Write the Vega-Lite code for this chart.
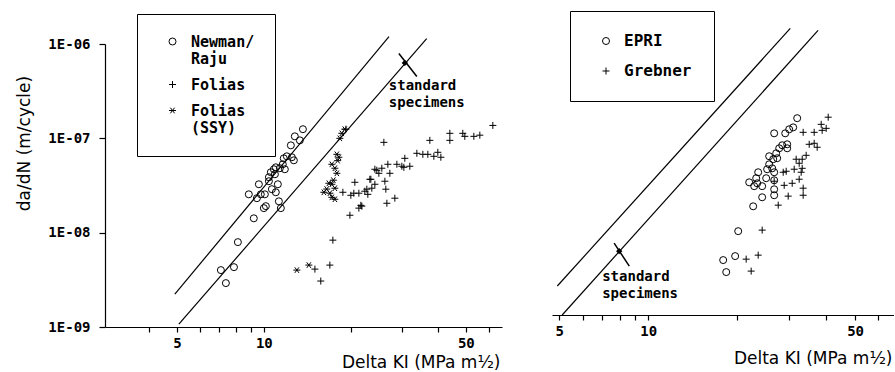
{
 "$schema": "https://vega.github.io/schema/vega-lite/v6.json",
 "padding": {"top": 10, "left": 14, "right": 0, "bottom": 0},
 "background": "white",
 "config": {
  "view": {"stroke": null},
  "axis": {"domainColor": "black", "tickColor": "black", "labelColor": "black", "titleColor": "black", "grid": false, "labelFont": "DejaVu Sans Mono", "labelFontWeight": "bold", "labelFontSize": 14, "titleFont": "DejaVu Sans", "titleFontWeight": "normal", "titleFontSize": 17, "domainWidth": 1.2, "tickWidth": 1.2, "tickSize": 5, "labelOverlap": false, "labelFlush": false},
  "legend": {"labelFont": "DejaVu Sans Mono", "labelFontWeight": "bold", "labelFontSize": 16, "labelColor": "black", "strokeColor": "black", "orient": "none", "symbolStrokeColor": "black", "symbolFillColor": "transparent", "symbolStrokeWidth": 1}
 },
 "datasets": {
  "leftLines": [{"line": "a", "k": 4.92, "r": 2.23e-9}, {"line": "a", "k": 27.1, "r": 1.2e-6}, {"line": "b", "k": 5.08, "r": 1.07e-9}, {"line": "b", "k": 36.6, "r": 1.14e-6}],
  "leftMark": [{"k": 29.32, "r": 7.92e-7}, {"k": 33.84, "r": 4.53e-7}],
  "leftDot": [{"k": 30.75, "r": 6.3e-7}],
  "leftNote": [{"k": 27.07, "r": 4.21e-7, "label": "standard\nspecimens"}],
  "rightLines": [{"line": "a", "k": 4.93, "r": 2.03e-9}, {"line": "a", "k": 30.2, "r": 1.09e-6}, {"line": "b", "k": 5.12, "r": 1.0e-9}, {"line": "b", "k": 37.5, "r": 1.04e-6}],
  "rightMark": [{"k": 7.67, "r": 5.78e-9}, {"k": 8.63, "r": 3.30e-9}],
  "rightDot": [{"k": 7.98, "r": 4.75e-9}],
  "rightNote": [{"k": 6.99, "r": 2.99e-9, "label": "standard\nspecimens"}],
  "leftPts": [
   {"set": "Newman/Raju", "k": 7.10, "r": 4.01e-9}, {"set": "Newman/Raju", "k": 7.39, "r": 2.92e-9}, {"set": "Newman/Raju", "k": 7.88, "r": 4.31e-9}, {"set": "Newman/Raju", "k": 8.13, "r": 7.94e-9},
   {"set": "Newman/Raju", "k": 9.23, "r": 1.42e-8}, {"set": "Newman/Raju", "k": 8.87, "r": 2.55e-8}, {"set": "Newman/Raju", "k": 9.61, "r": 3.26e-8}, {"set": "Newman/Raju", "k": 9.46, "r": 2.32e-8},
   {"set": "Newman/Raju", "k": 9.76, "r": 2.55e-8}, {"set": "Newman/Raju", "k": 10.0, "r": 1.82e-8}, {"set": "Newman/Raju", "k": 10.16, "r": 1.91e-8}, {"set": "Newman/Raju", "k": 10.08, "r": 2.55e-8},
   {"set": "Newman/Raju", "k": 10.41, "r": 3.51e-8}, {"set": "Newman/Raju", "k": 10.66, "r": 2.89e-8}, {"set": "Newman/Raju", "k": 11.0, "r": 2.68e-8}, {"set": "Newman/Raju", "k": 11.18, "r": 3.26e-8},
   {"set": "Newman/Raju", "k": 11.27, "r": 2.15e-8}, {"set": "Newman/Raju", "k": 11.45, "r": 1.82e-8}, {"set": "Newman/Raju", "k": 10.57, "r": 4.37e-8}, {"set": "Newman/Raju", "k": 10.83, "r": 4.70e-8},
   {"set": "Newman/Raju", "k": 11.0, "r": 4.93e-8}, {"set": "Newman/Raju", "k": 11.36, "r": 4.82e-8}, {"set": "Newman/Raju", "k": 11.63, "r": 5.31e-8}, {"set": "Newman/Raju", "k": 11.82, "r": 4.70e-8},
   {"set": "Newman/Raju", "k": 11.72, "r": 6.14e-8}, {"set": "Newman/Raju", "k": 12.01, "r": 6.45e-8}, {"set": "Newman/Raju", "k": 12.5, "r": 6.30e-8}, {"set": "Newman/Raju", "k": 12.4, "r": 8.43e-8},
   {"set": "Newman/Raju", "k": 12.8, "r": 1.05e-7}, {"set": "Newman/Raju", "k": 13.32, "r": 9.52e-8}, {"set": "Newman/Raju", "k": 13.65, "r": 1.25e-7}, {"set": "Newman/Raju", "k": 12.7, "r": 5.85e-8},
   {"set": "Newman/Raju", "k": 10.92, "r": 4.16e-8}, {"set": "Newman/Raju", "k": 10.41, "r": 3.87e-8},
   {"set": "Folias", "k": 15.74, "r": 3.07e-9}, {"set": "Folias", "k": 16.92, "r": 4.53e-9}, {"set": "Folias", "k": 17.33, "r": 8.33e-9}, {"set": "Folias", "k": 15.02, "r": 4.11e-9},
   {"set": "Folias", "k": 18.77, "r": 2.68e-8}, {"set": "Folias", "k": 19.85, "r": 1.53e-8}, {"set": "Folias", "k": 20.65, "r": 3.42e-8}, {"set": "Folias", "k": 20.0, "r": 2.49e-8},
   {"set": "Folias", "k": 21.32, "r": 2.62e-8}, {"set": "Folias", "k": 21.66, "r": 1.95e-8}, {"set": "Folias", "k": 22.36, "r": 2.75e-8}, {"set": "Folias", "k": 22.9, "r": 2.55e-8},
   {"set": "Folias", "k": 23.27, "r": 3.68e-8}, {"set": "Folias", "k": 24.22, "r": 4.70e-8}, {"set": "Folias", "k": 24.22, "r": 3.26e-8}, {"set": "Folias", "k": 25.0, "r": 4.26e-8},
   {"set": "Folias", "k": 25.6, "r": 4.82e-8}, {"set": "Folias", "k": 26.23, "r": 3.51e-8}, {"set": "Folias", "k": 26.43, "r": 2.89e-8}, {"set": "Folias", "k": 26.65, "r": 2.05e-8},
   {"set": "Folias", "k": 26.02, "r": 9.07e-8}, {"set": "Folias", "k": 27.29, "r": 4.26e-8}, {"set": "Folias", "k": 28.4, "r": 2.32e-8}, {"set": "Folias", "k": 28.86, "r": 5.31e-8},
   {"set": "Folias", "k": 30.03, "r": 5.06e-8}, {"set": "Folias", "k": 30.75, "r": 6.14e-8}, {"set": "Folias", "k": 32.0, "r": 5.06e-8}, {"set": "Folias", "k": 33.84, "r": 6.94e-8},
   {"set": "Folias", "k": 35.5, "r": 6.77e-8}, {"set": "Folias", "k": 37.53, "r": 9.52e-8}, {"set": "Folias", "k": 36.94, "r": 6.77e-8}, {"set": "Folias", "k": 38.75, "r": 6.45e-8},
   {"set": "Folias", "k": 40.0, "r": 7.11e-8}, {"set": "Folias", "k": 40.98, "r": 6.30e-8}, {"set": "Folias", "k": 44.02, "r": 1.13e-7}, {"set": "Folias", "k": 44.02, "r": 9.52e-8},
   {"set": "Folias", "k": 48.8, "r": 1.13e-7}, {"set": "Folias", "k": 49.6, "r": 1.05e-7}, {"set": "Folias", "k": 53.3, "r": 1.05e-7}, {"set": "Folias", "k": 55.9, "r": 1.08e-7},
   {"set": "Folias", "k": 62.0, "r": 1.37e-7}, {"set": "Folias", "k": 30.51, "r": 4.93e-8}, {"set": "Folias", "k": 19.22, "r": 1.25e-7}, {"set": "Folias", "k": 20.48, "r": 2.62e-8},
   {"set": "Folias", "k": 21.83, "r": 1.91e-8}, {"set": "Folias", "k": 22.72, "r": 2.89e-8}, {"set": "Folias", "k": 23.64, "r": 2.96e-8}, {"set": "Folias", "k": 24.6, "r": 4.59e-8},
   {"set": "Folias", "k": 26.86, "r": 5.31e-8}, {"set": "Folias", "k": 21.32, "r": 1.82e-8}, {"set": "Folias", "k": 23.46, "r": 3.68e-8},
   {"set": "Folias (SSY)", "k": 18.61, "r": 1.13e-7}, {"set": "Folias (SSY)", "k": 19.06, "r": 1.25e-7}, {"set": "Folias (SSY)", "k": 18.32, "r": 1.0e-7}, {"set": "Folias (SSY)", "k": 17.89, "r": 6.77e-8},
   {"set": "Folias (SSY)", "k": 18.18, "r": 6.30e-8}, {"set": "Folias (SSY)", "k": 17.19, "r": 5.31e-8}, {"set": "Folias (SSY)", "k": 17.61, "r": 4.82e-8}, {"set": "Folias (SSY)", "k": 17.89, "r": 4.26e-8},
   {"set": "Folias (SSY)", "k": 16.79, "r": 3.34e-8}, {"set": "Folias (SSY)", "k": 17.19, "r": 3.26e-8}, {"set": "Folias (SSY)", "k": 17.61, "r": 2.96e-8}, {"set": "Folias (SSY)", "k": 16.13, "r": 2.68e-8},
   {"set": "Folias (SSY)", "k": 16.92, "r": 2.62e-8}, {"set": "Folias (SSY)", "k": 17.19, "r": 2.37e-8}, {"set": "Folias (SSY)", "k": 17.61, "r": 2.26e-8}, {"set": "Folias (SSY)", "k": 13.01, "r": 4.01e-9},
   {"set": "Folias (SSY)", "k": 14.31, "r": 4.53e-9}, {"set": "Folias (SSY)", "k": 18.0, "r": 5.8e-8}, {"set": "Folias (SSY)", "k": 17.4, "r": 3.6e-8}, {"set": "Folias (SSY)", "k": 16.5, "r": 2.9e-8}
  ],
  "rightPts": [
   {"set": "EPRI", "k": 18.35, "r": 2.85e-9}, {"set": "EPRI", "k": 17.92, "r": 3.82e-9}, {"set": "EPRI", "k": 19.67, "r": 4.21e-9}, {"set": "EPRI", "k": 20.14, "r": 7.74e-9},
   {"set": "EPRI", "k": 22.63, "r": 1.42e-8}, {"set": "EPRI", "k": 24.27, "r": 1.77e-8}, {"set": "EPRI", "k": 26.65, "r": 1.86e-8}, {"set": "EPRI", "k": 26.65, "r": 2.15e-8},
   {"set": "EPRI", "k": 21.94, "r": 2.55e-8}, {"set": "EPRI", "k": 22.81, "r": 2.32e-8}, {"set": "EPRI", "k": 23.35, "r": 2.49e-8}, {"set": "EPRI", "k": 24.27, "r": 2.32e-8},
   {"set": "EPRI", "k": 25.04, "r": 2.82e-8}, {"set": "EPRI", "k": 26.65, "r": 2.68e-8}, {"set": "EPRI", "k": 23.53, "r": 3.26e-8}, {"set": "EPRI", "k": 25.23, "r": 3.51e-8},
   {"set": "EPRI", "k": 26.65, "r": 3.26e-8}, {"set": "EPRI", "k": 25.63, "r": 3.96e-8}, {"set": "EPRI", "k": 26.45, "r": 4.48e-8}, {"set": "EPRI", "k": 27.28, "r": 4.59e-8},
   {"set": "EPRI", "k": 25.63, "r": 4.82e-8}, {"set": "EPRI", "k": 27.07, "r": 5.18e-8}, {"set": "EPRI", "k": 27.71, "r": 5.85e-8}, {"set": "EPRI", "k": 28.37, "r": 6.30e-8},
   {"set": "EPRI", "k": 29.49, "r": 6.45e-8}, {"set": "EPRI", "k": 29.49, "r": 5.85e-8}, {"set": "EPRI", "k": 26.65, "r": 8.43e-8}, {"set": "EPRI", "k": 29.04, "r": 8.43e-8},
   {"set": "EPRI", "k": 29.95, "r": 9.30e-8}, {"set": "EPRI", "k": 30.9, "r": 9.75e-8}, {"set": "EPRI", "k": 31.87, "r": 1.22e-7}, {"set": "EPRI", "k": 23.17, "r": 2.82e-8},
   {"set": "EPRI", "k": 26.24, "r": 3.59e-8},
   {"set": "Grebner", "k": 22.28, "r": 2.92e-9}, {"set": "Grebner", "k": 23.53, "r": 4.31e-9}, {"set": "Grebner", "k": 21.43, "r": 3.91e-9}, {"set": "Grebner", "k": 24.27, "r": 7.94e-9},
   {"set": "Grebner", "k": 27.5, "r": 1.46e-8}, {"set": "Grebner", "k": 29.72, "r": 1.82e-8}, {"set": "Grebner", "k": 33.39, "r": 1.86e-8}, {"set": "Grebner", "k": 33.39, "r": 2.21e-8},
   {"set": "Grebner", "k": 28.81, "r": 2.37e-8}, {"set": "Grebner", "k": 30.66, "r": 2.49e-8}, {"set": "Grebner", "k": 32.37, "r": 2.75e-8}, {"set": "Grebner", "k": 26.65, "r": 2.62e-8},
   {"set": "Grebner", "k": 28.59, "r": 3.26e-8}, {"set": "Grebner", "k": 31.14, "r": 3.51e-8}, {"set": "Grebner", "k": 32.88, "r": 3.26e-8}, {"set": "Grebner", "k": 33.14, "r": 3.59e-8},
   {"set": "Grebner", "k": 32.37, "r": 4.06e-8}, {"set": "Grebner", "k": 33.14, "r": 4.48e-8}, {"set": "Grebner", "k": 31.62, "r": 4.48e-8}, {"set": "Grebner", "k": 34.18, "r": 4.93e-8},
   {"set": "Grebner", "k": 35.0, "r": 6.45e-8}, {"set": "Grebner", "k": 36.38, "r": 6.61e-8}, {"set": "Grebner", "k": 37.24, "r": 6.0e-8}, {"set": "Grebner", "k": 33.39, "r": 8.64e-8},
   {"set": "Grebner", "k": 36.38, "r": 8.64e-8}, {"set": "Grebner", "k": 38.71, "r": 9.07e-8}, {"set": "Grebner", "k": 38.42, "r": 1.05e-7}, {"set": "Grebner", "k": 39.94, "r": 9.52e-8},
   {"set": "Grebner", "k": 40.57, "r": 1.25e-7}, {"set": "Grebner", "k": 29.26, "r": 3.34e-8}
  ]
 },
 "spacing": 50,
 "bounds": "flush",
 "resolve": {"scale": {"x": "independent", "y": "independent", "shape": "independent"}, "legend": {"shape": "independent"}},
 "hconcat": [
  {
   "width": 397, "height": 283,
   "layer": [
    {"data": {"name": "leftLines"}, "mark": {"type": "line", "color": "black", "strokeWidth": 1.2, "clip": false},
     "encoding": {
      "x": {"field": "k", "type": "quantitative", "title": "Delta KI (MPa m½)", "scale": {"type": "log", "domain": [2.82, 66.7], "nice": false},
            "axis": {"values": [4, 5, 6, 7, 8, 9, 10, 20, 30, 40, 50, 60], "labelExpr": "datum.value == 5 || datum.value == 10 || datum.value == 50 ? '' + datum.value : ''", "labelPadding": 4, "titleAnchor": "end", "titleAlign": "right", "titleX": 395, "titleY": 35, "titleBaseline": "middle"}},
      "y": {"field": "r", "type": "quantitative", "title": "da/dN (m/cycle)", "scale": {"type": "log", "domain": [1e-9, 1e-6], "nice": false},
            "axis": {"values": [1e-9, 1e-8, 1e-7, 1e-6], "labelExpr": "'1E-0' + round(-log(datum.value) / LN10)", "tickSize": 6, "labelPadding": 9, "titleAngle": -90, "titleX": -81, "titleY": 99, "titleAlign": "center", "titleBaseline": "middle"}},
      "detail": {"field": "line", "type": "nominal"}
     }},
    {"data": {"name": "leftPts"}, "mark": {"type": "point", "filled": false, "stroke": "black", "strokeWidth": 1, "opacity": 1, "size": 49},
     "encoding": {
      "x": {"field": "k", "type": "quantitative"},
      "y": {"field": "r", "type": "quantitative"},
      "shape": {"field": "set", "type": "nominal",
                "scale": {"domain": ["Newman/Raju", "Folias", "Folias (SSY)"], "range": ["circle", "M-1,0L1,0M0,-1L0,1", "M-1,0L1,0M-0.6,-0.8L0.6,0.8M-0.6,0.8L0.6,-0.8"]},
                "legend": {"title": null, "legendX": 32, "legendY": -30, "padding": 20, "rowPadding": 10, "symbolOffset": 8, "labelOffset": 11, "symbolSize": 49, "labelFontSize": 15,
                           "labelExpr": "datum.label == 'Newman/Raju' ? ['Newman/', 'Raju'] : datum.label == 'Folias (SSY)' ? ['Folias', '(SSY)'] : datum.label"}}
     }},
    {"data": {"name": "leftMark"}, "mark": {"type": "line", "color": "black", "strokeWidth": 1.5, "clip": false},
     "encoding": {"x": {"field": "k", "type": "quantitative"}, "y": {"field": "r", "type": "quantitative"}}},
    {"data": {"name": "leftDot"}, "mark": {"type": "point", "shape": "diamond", "filled": true, "color": "black", "size": 40, "opacity": 1, "clip": false},
     "encoding": {"x": {"field": "k", "type": "quantitative"}, "y": {"field": "r", "type": "quantitative"}}},
    {"data": {"name": "leftNote"}, "mark": {"type": "text", "align": "left", "baseline": "top", "font": "DejaVu Sans Mono", "fontWeight": "bold", "fontSize": 14, "lineBreak": "\n", "lineHeight": 17, "color": "black", "clip": false},
     "encoding": {"x": {"field": "k", "type": "quantitative"}, "y": {"field": "r", "type": "quantitative"}, "text": {"field": "label"}}}
   ]
  },
  {
   "width": 342, "height": 271,
   "layer": [
    {"data": {"name": "rightLines"}, "mark": {"type": "line", "color": "black", "strokeWidth": 1.2, "clip": false},
     "encoding": {
      "x": {"field": "k", "type": "quantitative", "title": "Delta KI (MPa m½)", "scale": {"type": "log", "domain": [4.73, 67.7], "nice": false},
            "axis": {"values": [5, 6, 7, 8, 9, 10, 20, 30, 40, 50, 60], "labelExpr": "datum.value == 5 || datum.value == 10 || datum.value == 50 ? '' + datum.value : ''", "labelPadding": 4, "titleAnchor": "end", "titleAlign": "right", "titleX": 340, "titleY": 43, "titleBaseline": "middle"}},
      "y": {"field": "r", "type": "quantitative", "scale": {"type": "log", "domain": [1e-9, 7.46e-7], "nice": false}, "axis": null},
      "detail": {"field": "line", "type": "nominal"}
     }},
    {"data": {"name": "rightPts"}, "mark": {"type": "point", "filled": false, "stroke": "black", "strokeWidth": 1, "opacity": 1, "size": 49},
     "encoding": {
      "x": {"field": "k", "type": "quantitative"},
      "y": {"field": "r", "type": "quantitative"},
      "shape": {"field": "set", "type": "nominal",
                "scale": {"domain": ["EPRI", "Grebner"], "range": ["circle", "M-1,0L1,0M0,-1L0,1"]},
                "legend": {"title": null, "legendX": 18, "legendY": -33, "padding": 22, "rowPadding": 14, "symbolOffset": 6, "labelOffset": 10, "symbolSize": 49}}
     }},
    {"data": {"name": "rightMark"}, "mark": {"type": "line", "color": "black", "strokeWidth": 1.5, "clip": false},
     "encoding": {"x": {"field": "k", "type": "quantitative"}, "y": {"field": "r", "type": "quantitative"}}},
    {"data": {"name": "rightDot"}, "mark": {"type": "point", "shape": "diamond", "filled": true, "color": "black", "size": 40, "opacity": 1, "clip": false},
     "encoding": {"x": {"field": "k", "type": "quantitative"}, "y": {"field": "r", "type": "quantitative"}}},
    {"data": {"name": "rightNote"}, "mark": {"type": "text", "align": "left", "baseline": "top", "font": "DejaVu Sans Mono", "fontWeight": "bold", "fontSize": 14, "lineBreak": "\n", "lineHeight": 17, "color": "black", "clip": false},
     "encoding": {"x": {"field": "k", "type": "quantitative"}, "y": {"field": "r", "type": "quantitative"}, "text": {"field": "label"}}}
   ]
  }
 ]
}
